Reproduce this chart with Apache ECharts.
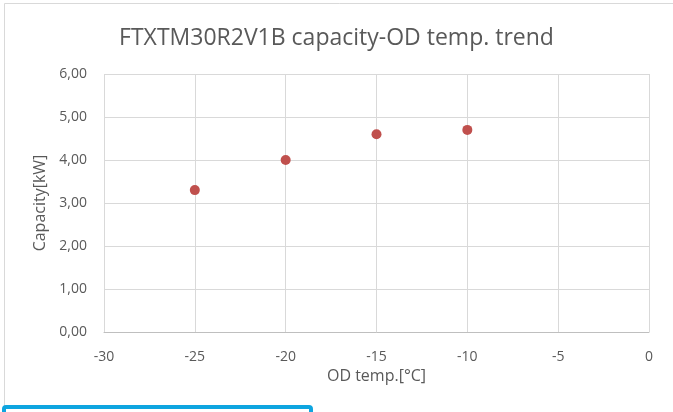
<!DOCTYPE html>
<html><head><meta charset="utf-8">
<script src="https://cdn.jsdelivr.net/npm/echarts@6/dist/echarts.min.js"></script>
<style>html,body{margin:0;padding:0;background:#fff}#c{width:673px;height:412px}</style>
</head><body><div id="c"></div>
<script>
const titleText = 'FTXTM30R2V1B capacity-OD temp. trend';
const xName = 'OD temp.[°C]';
const yName = 'Capacity[kW]';
const odTemps = [-25, -20, -15, -10];
const capacity = [3.3, 4.0, 4.6, 4.7];
const xRange = [-30, 0, 5];
const yRange = [0, 6, 1];

const chart = echarts.init(document.getElementById('c'), null, {renderer: 'canvas'});
const font = 'Open Sans';
chart.setOption({
  animation: false,
  backgroundColor: '#fff',
  title: {
    text: titleText, left: 'center', top: 22,
    textStyle: {fontFamily: font, fontSize: 23, fontWeight: 'normal', color: '#595959'}
  },
  grid: {left: 104, right: 24, top: 74, bottom: 80},
  xAxis: {
    type: 'value', min: xRange[0], max: xRange[1], interval: xRange[2],
    name: xName, nameLocation: 'middle', nameGap: 36,
    nameTextStyle: {fontFamily: font, fontSize: 16, color: '#595959'},
    axisLine: {show: true, onZero: false, lineStyle: {color: '#bfbfbf', width: 1}},
    axisTick: {show: false},
    axisLabel: {fontFamily: font, fontSize: 14, color: '#595959', margin: 18},
    splitLine: {show: true, lineStyle: {color: '#d9d9d9', width: 1}}
  },
  yAxis: {
    type: 'value', min: yRange[0], max: yRange[1], interval: yRange[2],
    name: yName, nameLocation: 'middle', nameGap: 53,
    nameTextStyle: {fontFamily: font, fontSize: 16, color: '#595959'},
    axisLine: {show: false},
    axisTick: {show: false},
    axisLabel: {fontFamily: font, fontSize: 14, color: '#595959', margin: 17,
      formatter: v => v.toFixed(2).replace('.', ',')},
    splitLine: {show: true, lineStyle: {color: '#d9d9d9', width: 1}}
  },
  series: [{
    type: 'scatter', symbol: 'circle', symbolSize: 10,
    itemStyle: {color: '#c0504d', opacity: 1},
    data: odTemps.map((t, i) => [t, capacity[i]])
  }],
  graphic: [
    {type: 'rect', shape: {x: 4.5, y: 3.5, width: 700, height: 420}, style: {fill: 'none', stroke: '#d9d9d9', lineWidth: 1}, z: -1},
    {type: 'rect', shape: {x: 4, y: 407, width: 307, height: 30, r: 2}, style: {fill: '#fff', stroke: '#0ea5e0', lineWidth: 4}, z: 10}
  ]
});
</script></body></html>
